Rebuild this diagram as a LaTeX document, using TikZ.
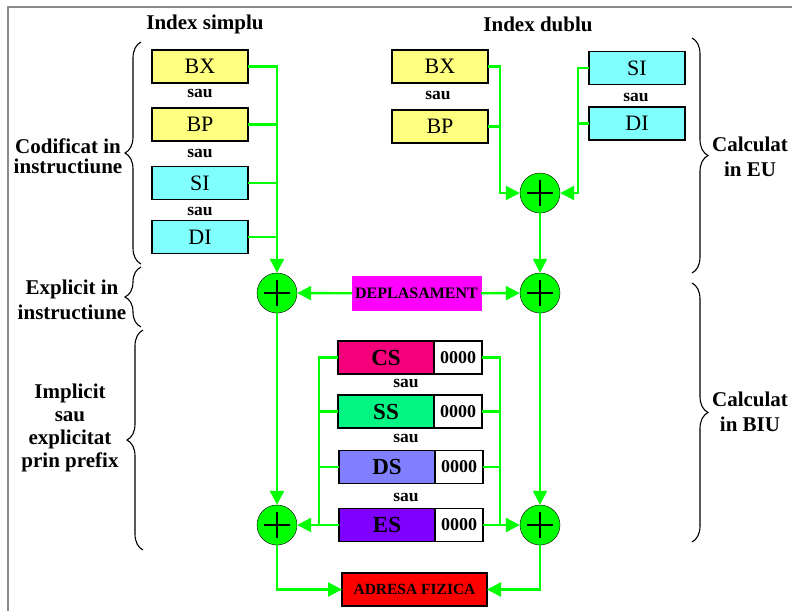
\documentclass[tikz,border=0pt]{standalone}
\usepackage{fontspec}
\setmainfont{Liberation Serif}
\usetikzlibrary{arrows.meta,calc,decorations.pathreplacing,positioning}
\definecolor{MAYellow}{HTML}{FFFF80}
\definecolor{MACyan}{HTML}{80FFFF}
\definecolor{MAGreen}{HTML}{00FF00}
\definecolor{MACS}{HTML}{F5007A}
\definecolor{MASS}{HTML}{00F582}
\definecolor{MADS}{HTML}{8080FF}
\definecolor{MAES}{HTML}{8000FF}
\definecolor{MAMagenta}{HTML}{FF00FF}
\definecolor{MARed}{HTML}{FF0000}
\definecolor{MAFrame}{HTML}{8C8C8C}

\begin{document}
\begin{tikzpicture}[x=1pt,y=-1pt,
      >={Triangle[length=14pt,width=14pt]},
      reg/.style={draw=black,line width=1.8pt,outer sep=0pt,inner sep=0pt,
        minimum width=96pt,minimum height=33pt,font=\fontsize{22}{22}\selectfont},
      segreg/.style={reg,font=\bfseries\fontsize{23}{23}\selectfont},
      zeros/.style={reg,fill=white,minimum width=48pt,font=\bfseries\fontsize{18}{18}\selectfont},
      label/.style={draw,inner sep=0pt,outer sep=0pt,minimum height=34pt},
      tag/.style={font=\bfseries\fontsize{21}{20}\selectfont,align=center},
      sau/.style={font=\bfseries\fontsize{17.5}{17.5}\selectfont},
      adder/.style={circle,draw=black,thin,fill=MAGreen,minimum size=40pt,inner sep=0pt,
        path picture={\draw[line width=2.2pt]
          (path picture bounding box.center) ++(-13,0) -- ++(26,0)
          (path picture bounding box.center) ++(0,-13) -- ++(0,26);}},
      wire/.style={draw=MAGreen,line width=2.4pt},
      flow/.style={wire,->},
      curly/.style={decorate,decoration={brace,amplitude=16pt},line width=1.1pt}
    ]
    \path[use as bounding box] (0,0) rectangle (792,611);
    \draw[MAFrame,line width=2pt] (8,611) -- (8,7) -- (792,7);

    \node[tag] (tSimplu) at (205,24) {Index simplu};
    \node[tag] (tDublu) at (538,24) {Index dublu};

    % index simplu
    \node[reg,fill=MAYellow] (bxL) at (200,66.5) {BX};
    \node[reg,fill=MAYellow] (bpL) at (200,124.5) {BP};
    \node[reg,fill=MACyan] (siL) at (200,183) {SI};
    \node[reg,fill=MACyan] (diL) at (200,237) {DI};
    \node[sau] (sL1) at (200,93) {sau};
    \node[sau] (sL2) at (200,153) {sau};
    \node[sau] (sL3) at (200,211) {sau};

    % index dublu
    \node[reg,fill=MAYellow] (bxR) at (440,66.5) {BX};
    \node[reg,fill=MAYellow] (bpR) at (440,126.5) {BP};
    \node[reg,fill=MACyan] (siR) at (637,68) {SI};
    \node[reg,fill=MACyan] (diR) at (637,123.5) {DI};
    \node[sau] (sR1) at (438,95) {sau};
    \node[sau] (sR2) at (636,97) {sau};

    \node[adder] (sumEU) at (540,193) {};
    \node[adder] (sumL1) at (277,293) {};
    \node[adder] (sumR1) at (540,293) {};
    \node[adder] (sumL2) at (277,525) {};
    \node[adder] (sumR2) at (540,525) {};

    \node[label,draw=MAMagenta,fill=MAMagenta,minimum width=129pt,
      font=\bfseries\fontsize{16}{16}\selectfont] (depl) at (416.5,293.5) {DEPLASAMENT};

    % registri segment
    \node[segreg,fill=MACS] (cs) at (386,357.5) {CS};
    \node[zeros,right=0pt of cs] (cs0) {0000};
    \node[segreg,fill=MASS] (ss) at (386,411.5) {SS};
    \node[zeros,right=0pt of ss] (ss0) {0000};
    \node[segreg,fill=MADS] (ds) at (387,467) {DS};
    \node[zeros,right=0pt of ds] (ds0) {0000};
    \node[segreg,fill=MAES] (es) at (387,525) {ES};
    \node[zeros,right=0pt of es] (es0) {0000};
    \node[sau] (sS1) at (406,383) {sau};
    \node[sau] (sS2) at (406,438) {sau};
    \node[sau] (sS3) at (406,497) {sau};

    \node[label,line width=1.8pt,fill=MARed,minimum width=145pt,minimum height=33pt,
      font=\bfseries\fontsize{15.5}{15.5}\selectfont] (adr) at (414.5,589.5) {ADRESA FIZICA};

    % legaturi
    \draw[flow] (bxL.east) -| (sumL1.north);
    \foreach \r in {bpL,siL,diL}
      \draw[wire] (\r.east) -- (\r.east -| sumL1.north);

    \coordinate (jBase) at ($(bxR.east)+(12,0)$);
    \coordinate (jIdx) at ($(siR.west)+(-11,0)$);
    \draw[flow] (bxR.east) -- (jBase) |- (sumEU.west);
    \draw[wire] (bpR.east) -- (bpR.east -| jBase);
    \draw[flow] (siR.west) -- (jIdx) |- (sumEU.east);
    \draw[wire] (diR.west) -- (diR.west -| jIdx);
    \draw[flow] (sumEU) -- (sumR1);

    \draw[flow] (depl) -- (sumL1);
    \draw[flow] (depl) -- (sumR1);
    \draw[flow] (sumL1) -- (sumL2);
    \draw[flow] (sumR1) -- (sumR2);

    \coordinate (busL) at ($(cs.west)+(-19,0)$);
    \coordinate (busR) at ($(cs0.east)+(18,0)$);
    \draw[flow] (cs.west) -- (busL) |- (sumL2.east);
    \draw[flow] (cs0.east) -- (busR) |- (sumR2.west);
    \foreach \s in {ss,ds,es}
      \draw[wire] (\s.west) -- (\s.west -| busL);
    \foreach \s in {ss0,ds0,es0}
      \draw[wire] (\s.east) -- (\s.east -| busR);

    \draw[flow] (sumL2.south) |- (adr.west);
    \draw[flow] (sumR2.south) |- (adr.east);

    % acolade si explicatii
    \draw[curly] (141,264) -- (141,42);
    \draw[curly] (141,327) -- (141,267);
    \draw[curly] (143,550) -- (143,330);
    \draw[curly] (692,38) -- (692,273);
    \draw[curly] (692,283) -- (692,542);

    \node[tag,font=\bfseries\fontsize{21}{20}\selectfont] (tCod) at (68,156) {Codificat in\\instructiune};
    \node[tag,font=\bfseries\fontsize{21}{25}\selectfont] (tExp) at (72,300) {Explicit in\\instructiune};
    \node[tag,font=\bfseries\fontsize{21}{23}\selectfont] (tImp) at (70,428) {Implicit\\sau\\explicitat\\prin prefix};
    \node[tag,font=\bfseries\fontsize{21}{25}\selectfont] (tEU) at (750,157) {Calculat\\in EU};
    \node[tag,font=\bfseries\fontsize{21}{25}\selectfont] (tBIU) at (750,412) {Calculat\\in BIU};
  \end{tikzpicture}
\end{document}
